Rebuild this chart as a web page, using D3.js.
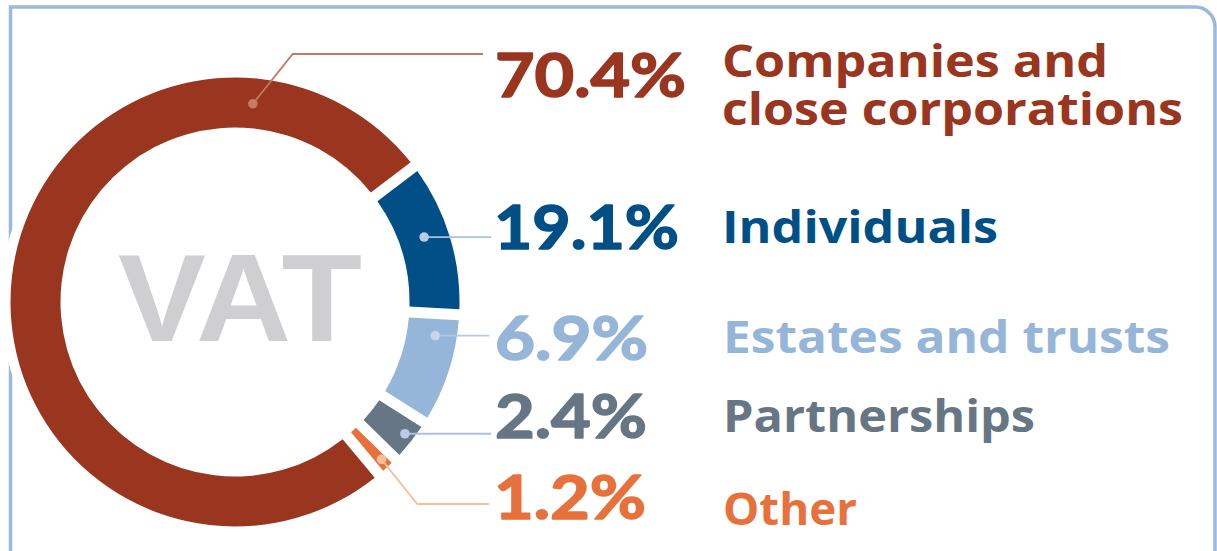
<!DOCTYPE html>
<html><head><meta charset="utf-8">
<script src="https://cdn.jsdelivr.net/npm/d3@7"></script>
<style>html,body{margin:0;padding:0;background:#fff;} svg{display:block;}</style>
</head><body>
<svg id="chart" width="1217" height="551"></svg>
<script>
// ---------- data ----------
const categories = [["Companies and", "close corporations"], ["Individuals"], ["Estates and trusts"], ["Partnerships"], ["Other"]];
const shares = [70.4, 19.1, 6.9, 2.4, 1.2];            // printed shares (%)
const ringShares = [75.7, 11.2, 8.1, 3.3, 1.6];        // share of the ring each slice occupies as drawn
const colors = ["#9a3520", "#004f87", "#95b5d9", "#667685", "#e8713b"];
const leaderColors = ["#c27a5f", "#abc2df", "#b3c8e3", "#abc2df", "#f6c09f"];
const dotColors = ["#c27d63", "#b9cbe5", "#c6d6eb", "#b9cbe5", "#f4bd9c"];
const centerLabel = "VAT";

// ---------- layout ----------
const W = 1217, H = 551;
const cx = 235, cy = 302, R = 224.5, r0 = 174.5;
const deg = Math.PI / 180;
const rows = [
  {pctX: 495, pctBase: 97,  pctW: 191, labX: 722, labBase: [77, 125], labW: [386, 461], leaderY: 54,  endX: 483, dotT: 0.825, dotR: 199},
  {pctX: 494, pctBase: 249, pctW: 185, labX: 722, labBase: [243],     labW: [276],      leaderY: null, endX: 491, dotT: 0.45,  dotR: 200},
  {pctX: 495, pctBase: 360, pctW: 153, labX: 723, labBase: [353],     labW: [447],      leaderY: null, endX: 489, dotT: 0.215, dotR: 203},
  {pctX: 495, pctBase: 438, pctW: 152, labX: 723, labBase: [432],     labW: [312],      leaderY: null, endX: 491, dotT: 0.45,  dotR: 215},
  {pctX: 494, pctBase: 519, pctW: 152, labX: 723, labBase: [525],     labW: [134],      leaderY: 504, endX: 489, dotT: 0.47,  dotR: 215}
];

const svg = d3.select("#chart");

// frame
svg.append("path")
  .attr("d", `M10.5,${H + 10} L10.5,7 L1195,7 A20,20 0 0 1 1215,27 L1215,${H + 10}`)
  .attr("fill", "none").attr("stroke", "#9bb9dc").attr("stroke-width", 3.5);

// white halo behind ring
svg.append("circle").attr("cx", cx).attr("cy", cy).attr("r", R + 10).attr("fill", "#fff");

const pie = d3.pie().sort(null).value(d => d)
  .startAngle(140.1 * deg).endAngle(140.1 * deg + 2 * Math.PI);
const arcs = pie(ringShares);
const arc = d3.arc().innerRadius(r0).outerRadius(R).padAngle(0.055).padRadius(200);

const g = svg.append("g").attr("transform", `translate(${cx},${cy})`);
g.selectAll("path.slice").data(arcs).join("path")
  .attr("class", "slice")
  .attr("d", arc)
  .attr("fill", (d, i) => colors[i]);

// center label
svg.append("text")
  .attr("x", 118).attr("y", 341)
  .attr("textLength", 244).attr("lengthAdjust", "spacingAndGlyphs")
  .attr("font-family", "'Liberation Sans', Arial, sans-serif")
  .attr("font-weight", 700).attr("font-size", 124)
  .attr("fill", "#cfcfd1")
  .text(centerLabel);

// leaders + dots
arcs.forEach((a, i) => {
  const L = rows[i];
  const ang = a.startAngle + (a.endAngle - a.startAngle) * L.dotT;
  const dx = cx + L.dotR * Math.sin(ang), dy = cy - L.dotR * Math.cos(ang);
  let pts;
  if (L.leaderY === null) {
    pts = [[dx, dy], [L.endX, dy]];
  } else {
    const ex = dx + Math.abs(dy - L.leaderY) * 0.8;
    pts = [[dx, dy], [ex, L.leaderY], [L.endX, L.leaderY]];
  }
  svg.append("path")
    .attr("d", d3.line()(pts))
    .attr("fill", "none").attr("stroke", leaderColors[i]).attr("stroke-width", 1.8);
  svg.append("circle").attr("cx", dx).attr("cy", dy).attr("r", 4.8).attr("fill", dotColors[i]);
});

// percentage labels
const fmt = d3.format(".1f");
svg.selectAll("text.pct").data(shares).join("text")
  .attr("class", "pct")
  .attr("x", (d, i) => rows[i].pctX)
  .attr("y", (d, i) => rows[i].pctBase)
  .attr("textLength", (d, i) => rows[i].pctW).attr("lengthAdjust", "spacingAndGlyphs")
  .attr("font-family", "Lato, 'Open Sans', sans-serif")
  .attr("font-weight", 700).attr("font-size", 62)
  .attr("fill", (d, i) => colors[i])
  .attr("stroke", (d, i) => colors[i]).attr("stroke-width", 1.6).attr("stroke-linejoin", "round")
  .text(d => fmt(d) + "%");

// category labels (one text element per category, one tspan per line)
categories.forEach((lines, i) => {
  const t = svg.append("text")
    .attr("font-family", "'Open Sans', 'Noto Sans', sans-serif")
    .attr("font-weight", 700).attr("font-size", 45)
    .attr("fill", colors[i]);
  lines.forEach((s, j) => {
    t.append("tspan")
      .attr("x", rows[i].labX).attr("y", rows[i].labBase[j])
      .attr("textLength", rows[i].labW[j]).attr("lengthAdjust", "spacingAndGlyphs")
      .text(s);
  });
});
</script>
</body></html>
